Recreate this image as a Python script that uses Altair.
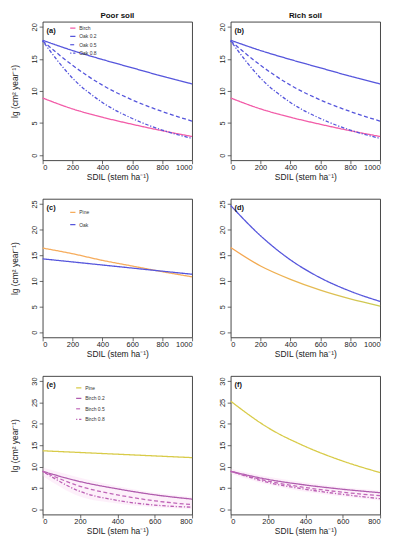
import altair as alt
import pandas as pd

FONT = "Liberation Sans"

# ---------------- data ----------------
sdil_1000 = [0, 200, 400, 600, 800, 1000]
sdil_800 = [0, 200, 400, 600, 800]

# (a) Poor soil
a_birch = [8.9, 7.2, 5.9, 4.8, 3.8, 2.9]
a_oak02 = [17.9, 16.3, 14.9, 13.6, 12.3, 11.1]
a_oak05 = [17.8, 14.0, 10.9, 8.6, 6.8, 5.3]
a_oak08 = [17.8, 12.0, 8.2, 5.7, 3.9, 2.6]

# (b) Rich soil
b_birch = [8.9, 7.2, 5.9, 4.8, 3.8, 2.9]
b_oak02 = [17.9, 16.3, 14.9, 13.6, 12.3, 11.1]
b_oak05 = [17.8, 14.0, 10.9, 8.6, 6.8, 5.3]
b_oak08 = [17.8, 12.0, 8.2, 5.7, 3.9, 2.6]

# (c) Poor soil
c_pine = [16.4, 15.3, 14.0, 12.9, 11.8, 10.8]
c_oak = [14.3, 13.7, 13.1, 12.5, 11.9, 11.3]

# (d) Rich soil
d_pine = [16.5, 12.9, 10.3, 8.2, 6.5, 5.1]
d_oak = [24.7, 18.8, 14.1, 10.6, 8.0, 6.0]

# (e) Poor soil
e_pine = [13.7, 13.3, 12.9, 12.5, 12.1]
e_birch02 = [8.9, 6.5, 4.8, 3.4, 2.4]
e_birch05 = [8.9, 5.4, 3.4, 2.0, 1.1]
e_birch08 = [8.9, 4.2, 2.1, 1.0, 0.5]
e_band_lo = [7.8, 3.0, 1.4, 0.5, 0.1]
e_band_hi = [9.8, 7.4, 5.4, 3.9, 2.9]

# (f) Rich soil
f_pine = [25.3, 19.1, 14.7, 11.3, 8.6]
f_birch02 = [8.9, 7.0, 5.7, 4.7, 3.9]
f_birch05 = [8.9, 6.6, 5.1, 4.0, 3.2]
f_birch08 = [8.9, 6.3, 4.7, 3.5, 2.5]
f_band_lo = [8.3, 5.8, 4.1, 3.0, 2.1]
f_band_hi = [9.5, 7.6, 6.3, 5.2, 4.4]

ticks_x1000 = [0, 200, 400, 600, 800, 1000]
ticks_x800 = [0, 200, 400, 600, 800]
ticks_y20 = [0, 5, 10, 15, 20]
ticks_y25 = [0, 5, 10, 15, 20, 25]
ticks_y30 = [0, 5, 10, 15, 20, 25, 30]

column_titles = ["Poor soil", "Rich soil"]

PINK = "#f25ca8"
BLUE = "#5555dc"
ORANGE = "#f6ac5c"
YELLOW = "#d8cb48"
PURPLE = "#b05cae"
SOLID = [1, 0]
DASH = [4, 2.5]
DOTDASH = [1.2, 1.8, 3.5, 1.8]

XTITLE = "SDIL (stem ha⁻¹)"
YTITLE = "lg (cm² year⁻¹)"
W, H = 151, 140


def long_df(xs, series):
    rows = []
    for name, ys in series.items():
        for x, y in zip(xs, ys):
            rows.append({"x": x, "y": y, "series": name})
    return pd.DataFrame(rows)


def make_panel(xs, series, colors, dashes, xticks, yticks, label,
               title=None, ytitle=False, legend=None, band=None, gradient=None):
    xmax = xticks[-1]
    ymax = yticks[-1]
    pad = 0.04 * ymax
    xscale = alt.Scale(domain=[0, xmax], nice=False, zero=False)
    yscale = alt.Scale(domain=[-pad, ymax + pad], nice=False, zero=False)
    xaxis = alt.Axis(values=xticks, title=XTITLE, format="d")
    if ytitle:
        yaxis = alt.Axis(values=yticks, title=YTITLE, format="d")
    else:
        yaxis = alt.Axis(values=yticks, title=None, format="d")

    layers = []
    if band is not None:
        bdf = pd.DataFrame({"x": xs, "lo": band[0], "hi": band[1]})
        layers.append(
            alt.Chart(bdf).mark_area(color="#f7cdee", opacity=0.3, interpolate="monotone").encode(
                x=alt.X("x:Q", scale=xscale, axis=xaxis),
                y=alt.Y("lo:Q", scale=yscale, axis=yaxis),
                y2="hi:Q",
            )
        )

    main = {k: v for k, v in series.items() if k != gradient}
    df = long_df(xs, main)
    mnames = list(main.keys())
    if legend is not None:
        leg = alt.Legend(**legend)
        leg2 = alt.Legend(**legend)
    else:
        leg = None
        leg2 = None
    layers.append(
        alt.Chart(df).mark_line(strokeWidth=1.3, interpolate="monotone").encode(
            x=alt.X("x:Q", scale=xscale, axis=xaxis),
            y=alt.Y("y:Q", scale=yscale, axis=yaxis),
            color=alt.Color("series:N", sort=mnames,
                            scale=alt.Scale(domain=mnames, range=[colors[n] for n in mnames]),
                            legend=leg),
            strokeDash=alt.StrokeDash("series:N", sort=mnames,
                                      scale=alt.Scale(domain=mnames, range=[dashes[n] for n in mnames]),
                                      legend=leg2),
            detail="series:N",
        )
    )
    if gradient is not None:
        gdf = long_df(xs, {gradient: series[gradient]})
        layers.append(
            alt.Chart(gdf).mark_line(
                strokeWidth=1.3, interpolate="monotone",
                color=alt.LinearGradient(
                    gradient="linear", x1=0, x2=1, y1=0, y2=0,
                    stops=[alt.GradientStop(color="#f7a24e", offset=0),
                           alt.GradientStop(color="#e8b852", offset=0.5),
                           alt.GradientStop(color="#c9cc52", offset=1)],
                ),
            ).encode(
                x=alt.X("x:Q", scale=xscale, axis=xaxis),
                y=alt.Y("y:Q", scale=yscale, axis=yaxis),
            )
        )
    layers.append(
        alt.Chart(pd.DataFrame({"label": [label]})).mark_text(
            align="left", baseline="middle", fontWeight="bold", fontSize=7.5,
            font=FONT, color="#111",
        ).encode(x=alt.value(4), y=alt.value(9.5), text="label:N")
    )
    if title is not None:
        layers.append(
            alt.Chart(pd.DataFrame({"t": [title]})).mark_text(
                align="center", baseline="bottom", fontWeight="bold", fontSize=8,
                font=FONT, color="#111",
            ).encode(x=alt.value(W / 2), y=alt.value(-2), text="t:N")
        )
    ch = alt.layer(*layers).resolve_scale(color="independent", strokeDash="independent")
    return ch.properties(width=W, height=H)


def leg_opts(x, y, row_pad):
    return dict(orient="none", legendX=x, legendY=y, title=None, labelFontSize=5,
                labelFont=FONT, labelColor="#333", symbolType="stroke", symbolSize=28,
                symbolStrokeWidth=1.2, rowPadding=row_pad, labelOffset=3, padding=0)


cols_ab = {"Birch": PINK, "Oak 0.2": BLUE, "Oak 0.5": BLUE, "Oak 0.8": BLUE}
dash_ab = {"Birch": SOLID, "Oak 0.2": SOLID, "Oak 0.5": DASH, "Oak 0.8": DOTDASH}
cols_cd = {"Pine": ORANGE, "Oak": BLUE}
dash_cd = {"Pine": SOLID, "Oak": SOLID}
cols_ef = {"Pine": YELLOW, "Birch 0.2": PURPLE, "Birch 0.5": "#c066b8", "Birch 0.8": "#bb5fb4"}
dash_ef = {"Pine": SOLID, "Birch 0.2": SOLID, "Birch 0.5": DASH, "Birch 0.8": DOTDASH}

pa = make_panel(sdil_1000, {"Birch": a_birch, "Oak 0.2": a_oak02, "Oak 0.5": a_oak05, "Oak 0.8": a_oak08},
                cols_ab, dash_ab, ticks_x1000, ticks_y20, "(a)", title=column_titles[0], ytitle=True,
                legend=leg_opts(27, 3, 1.4))
pb = make_panel(sdil_1000, {"Birch": b_birch, "Oak 0.2": b_oak02, "Oak 0.5": b_oak05, "Oak 0.8": b_oak08},
                cols_ab, dash_ab, ticks_x1000, ticks_y20, "(b)", title=column_titles[1])
pc = make_panel(sdil_1000, {"Pine": c_pine, "Oak": c_oak}, cols_cd, dash_cd, ticks_x1000, ticks_y25, "(c)",
                ytitle=True, legend=leg_opts(27, 10.2, 5.3))
pd_ = make_panel(sdil_1000, {"Oak": d_oak, "Pine": d_pine}, cols_cd, dash_cd, ticks_x1000, ticks_y25, "(d)",
                 gradient="Pine")
pe = make_panel(sdil_800, {"Pine": e_pine, "Birch 0.2": e_birch02, "Birch 0.5": e_birch05, "Birch 0.8": e_birch08},
                cols_ef, dash_ef, ticks_x800, ticks_y30, "(e)", ytitle=True,
                legend=leg_opts(33, 8.5, 3.6), band=(e_band_lo, e_band_hi))
pf = make_panel(sdil_800, {"Pine": f_pine, "Birch 0.2": f_birch02, "Birch 0.5": f_birch05, "Birch 0.8": f_birch08},
                cols_ef, dash_ef, ticks_x800, ticks_y30, "(f)", band=(f_band_lo, f_band_hi))

chart = alt.concat(pa, pb, pc, pd_, pe, pf, columns=2, spacing={"row": 39, "column": 39}, bounds="flush").resolve_scale(
    x="independent", y="independent", color="independent", strokeDash="independent"
).resolve_legend(color="independent", strokeDash="independent").properties(
    padding={"left": 2, "top": 0, "right": 5, "bottom": 5}
).configure_view(
    stroke="#333", strokeWidth=0.9
).configure_axis(
    domain=False, grid=False, tickSize=3.5, tickColor="#444", tickWidth=0.8,
    labelFont=FONT, labelFontSize=7.5, labelColor="#222",
    titleFont=FONT, titleFontSize=8.5, titleFontWeight="normal", titleColor="#222",
).configure_axisX(
    labelPadding=0, titlePadding=1.5,
).configure_axisY(
    labelAngle=270, labelAlign="center", labelBaseline="bottom", labelPadding=0.5, titlePadding=11,
)

chart.save("out.html", embed_options={"renderer": "svg", "actions": False})
